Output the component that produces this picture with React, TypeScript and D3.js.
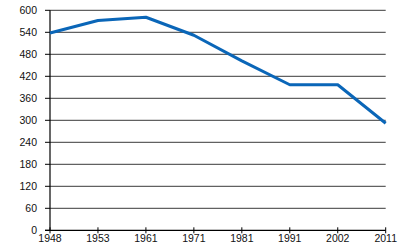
import React from "react";
import * as d3 from "d3";

const years = ["1948", "1953", "1961", "1971", "1981", "1991", "2002", "2011"];
const values = [538, 572, 581, 532, 462, 397, 397, 292];
const yTicks = [0, 60, 120, 180, 240, 300, 360, 420, 480, 540, 600];

const W = 400;
const H = 250;
const left = 50;
const right = 385.7;
const top = 10.3;
const bottom = 230.3;

export default function App() {
  const x = d3.scalePoint<string>().domain(years).range([left, right]);
  const y = d3.scaleLinear().domain([0, 600]).range([bottom, top]);
  const line = d3
    .line<number>()
    .x((_, i) => x(years[i]) as number)
    .y((d) => y(d));

  return (
    <svg
      width={W}
      height={H}
      style={{ position: "absolute", left: 0, top: 0, background: "#fff" }}
      fontFamily="'Liberation Sans', Arial, sans-serif"
      fontSize={10.5}
    >
      {yTicks.map((t) => (
        <g key={t}>
          {t > 0 && (
            <line x1={left} x2={right} y1={y(t)} y2={y(t)} stroke="#3a3a3a" strokeWidth={1} />
          )}
          <line x1={left - 5} x2={left} y1={y(t)} y2={y(t)} stroke="#000" strokeWidth={1} />
          <text x={37} y={y(t)} dy="0.35em" textAnchor="end" fill="#111">
            {t}
          </text>
        </g>
      ))}
      <line x1={left} x2={left} y1={top} y2={bottom} stroke="#000" strokeWidth={1.2} />
      <line x1={left - 5} x2={right} y1={bottom} y2={bottom} stroke="#000" strokeWidth={1.2} />
      {years.map((yr) => (
        <g key={yr}>
          <line x1={x(yr)} x2={x(yr)} y1={bottom - 3} y2={bottom + 3} stroke="#000" strokeWidth={1} />
          <text x={x(yr)} y={241.7} textAnchor="middle" fill="#111">
            {yr}
          </text>
        </g>
      ))}
      <path
        d={line(values) || ""}
        fill="none"
        stroke="#0a66b8"
        strokeWidth={3}
        strokeLinejoin="round"
      />
    </svg>
  );
}
